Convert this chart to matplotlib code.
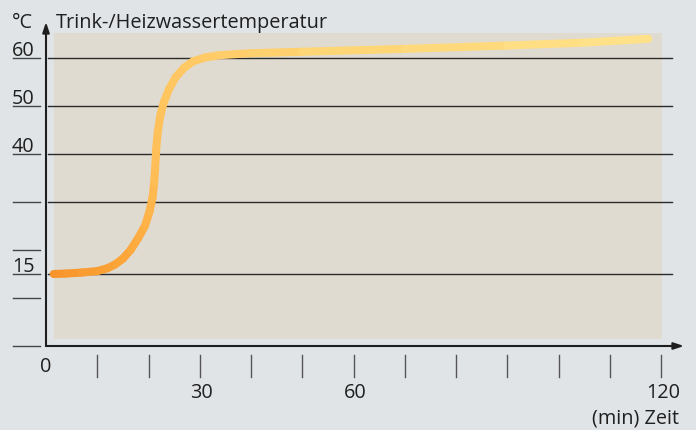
import matplotlib
matplotlib.use("Agg")
import matplotlib.pyplot as plt
import numpy as np
from matplotlib.collections import LineCollection
from matplotlib.patches import Rectangle
from matplotlib.colors import LinearSegmentedColormap

# ---- data ----
time_min = [1.5, 4, 7, 10, 12, 13.5, 15, 16.5, 18, 19.3, 20.2, 20.8, 21.1, 21.3, 21.5,
            21.8, 22.3, 23, 24, 25.3, 27, 28.7, 31, 34, 40, 50, 70, 90, 105, 117.5]
temp_c = [15.0, 15.1, 15.3, 15.6, 16.2, 17.0, 18.2, 20.0, 22.5, 25.0, 28.0, 31.0, 34.0, 37.0, 41.0,
          44.5, 48.0, 50.8, 53.5, 56.0, 58.0, 59.3, 60.1, 60.6, 61.0, 61.3, 61.9, 62.6, 63.2, 64.0]
grid_values = [60, 50, 40, 30, 15]
left_marks = [60, 50, 40, 30, 20, 15, 10, 0]
y_labels = {60: "60", 50: "50", 40: "40", 15: "15"}
x_ticks = list(range(10, 130, 10))
x_labels = {30: "30", 60: "60", 120: "120"}
y_title = "Trink-/Heizwassertemperatur"
y_unit = "°C"
x_title = "(min) Zeit"

W, H = 696, 431
fig = plt.figure(figsize=(W / 100, H / 100), dpi=100)
bg = "#e1e4e7"
fig.patch.set_facecolor(bg)
ax = fig.add_axes([0, 0, 1, 1])
ax.set_facecolor(bg)
ax.axis("off")

# pixel mapping: x_px = 46 + 5.125 t ; y_px(from top) = 347 - 4.8 T
sx, x0 = 5.125, 46
sy, y0 = 4.8, 347
ax.set_xlim(-x0 / sx, (W - x0) / sx)
ax.set_ylim((y0 - H) / sy, y0 / sy)

def px2t(p):
    return (p - x0) / sx

def py2T(p):
    return (y0 - p) / sy

# panel
ax.add_patch(Rectangle((px2t(54), py2T(340)), px2t(662) - px2t(54), py2T(34) - py2T(340),
                       facecolor="#dfdbd1", edgecolor="none", zorder=0))

fs = 14.3
font = "Open Sans"
tc = "#1f1f1f"

# gridlines
for v in grid_values:
    ax.plot([px2t(48), px2t(672)], [v, v], color="#2a2a2a", lw=1.0, zorder=1)

# left short marks and labels
for v in left_marks:
    ax.plot([px2t(13), px2t(40)], [v, v], color="#444444", lw=1.0, zorder=1)
for v, lab in y_labels.items():
    ax.text(px2t(12), v + 2.6 / sy, lab, ha="left", va="baseline", fontsize=fs,
            family=font, color=tc)

# curve with gradient
pts = np.array([time_min, temp_c]).T.reshape(-1, 1, 2)
segs = np.concatenate([pts[:-1], pts[1:]], axis=1)
cmap = LinearSegmentedColormap.from_list(
    "heat", [(0.0, "#f7932a"), (0.1, "#fca63a"), (0.22, "#ffbd55"), (0.4, "#ffca66"),
             (0.6, "#ffd675"), (1.0, "#ffe28c")])
xy = np.column_stack([np.array(time_min) * sx, np.array(temp_c) * sy])
d = np.concatenate([[0], np.cumsum(np.hypot(*np.diff(xy, axis=0).T))])
frac = (d[:-1] + d[1:]) / 2 / d[-1]
lc = LineCollection(segs, colors=cmap(frac), linewidths=5.8, capstyle="round",
                    joinstyle="round", zorder=3)
ax.add_collection(lc)

# axes arrows
arrow = dict(arrowstyle="-|>,head_length=0.6,head_width=0.2", color="#1e1e1e", lw=1.5,
             shrinkA=0, shrinkB=0)
ax.annotate("", xy=(0, py2T(23)), xytext=(0, 0), arrowprops=arrow, zorder=4)
ax.annotate("", xy=(px2t(684), 0), xytext=(0, 0), arrowprops=arrow, zorder=4)

# x ticks
for t in x_ticks:
    ax.plot([t, t], [py2T(356), py2T(378)], color="#555555", lw=1.0)
ax.text(0, py2T(372), "0", ha="center", va="baseline", fontsize=fs, family=font, color=tc)
for t, lab in x_labels.items():
    ax.text(t + 0.4, py2T(398), lab, ha="center", va="baseline", fontsize=fs, family=font, color=tc)
ax.text(px2t(679), py2T(424), x_title, ha="right", va="baseline", fontsize=fs, family=font, color=tc)

# titles
ax.text(px2t(12), py2T(28), y_unit, ha="left", va="baseline", fontsize=fs, family=font, color=tc)
ax.text(px2t(56), py2T(28), y_title, ha="left", va="baseline", fontsize=fs, family=font, color=tc)

fig.savefig("out.png", dpi=100, facecolor=bg)
